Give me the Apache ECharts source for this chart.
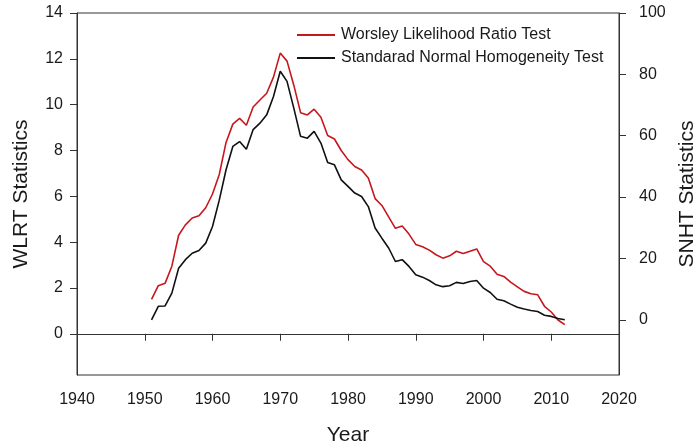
<!DOCTYPE html>
<html>
<head>
<meta charset="utf-8">
<script src="https://cdn.jsdelivr.net/npm/echarts@6/dist/echarts.min.js"></script>
<style>
  html, body { margin: 0; padding: 0; background: #fff; }
  #chart { width: 698px; height: 448px; }
</style>
</head>
<body>
<div id="chart"></div>
<script>
// years of the test series
const years = [
  1951, 1952, 1953, 1954, 1955, 1956, 1957, 1958, 1959, 1960,
  1961, 1962, 1963, 1964, 1965, 1966, 1967, 1968, 1969, 1970,
  1971, 1972, 1973, 1974, 1975, 1976, 1977, 1978, 1979, 1980,
  1981, 1982, 1983, 1984, 1985, 1986, 1987, 1988, 1989, 1990,
  1991, 1992, 1993, 1994, 1995, 1996, 1997, 1998, 1999, 2000,
  2001, 2002, 2003, 2004, 2005, 2006, 2007, 2008, 2009, 2010,
  2011, 2012
];
// Worsley Likelihood Ratio Test (left axis)
const wlrt = [
  1.5, 2.1, 2.2, 2.95, 4.3, 4.75, 5.05, 5.15, 5.5, 6.1,
  6.95, 8.35, 9.15, 9.4, 9.1, 9.9, 10.2, 10.5, 11.2, 12.25,
  11.9, 10.85, 9.65, 9.55, 9.8, 9.45, 8.65, 8.5, 8.0, 7.6,
  7.3, 7.15, 6.8, 5.9, 5.6, 5.1, 4.6, 4.7, 4.35, 3.9,
  3.8, 3.65, 3.45, 3.3, 3.4, 3.6, 3.5, 3.6, 3.7, 3.15,
  2.95, 2.6, 2.5, 2.25, 2.05, 1.85, 1.75, 1.7, 1.2, 0.95,
  0.6, 0.4
];
// Standard Normal Homogeneity Test (right axis)
const snht = [
  0, 4.4, 4.5, 8.7, 16.8, 19.6, 21.7, 22.6, 25, 30.4,
  39, 48.9, 56.5, 58.1, 55.6, 62, 64.1, 66.8, 72.8, 81,
  77.7, 69, 59.8, 59.2, 61.4, 57.6, 51.3, 50.5, 45.6, 43.5,
  41.3, 40.2, 36.9, 29.9, 26.6, 23.4, 19.0, 19.6, 17.4, 14.7,
  13.9, 12.8, 11.4, 10.8, 11.1, 12.2, 11.8, 12.5, 12.8, 10.3,
  8.9, 6.7, 6.2, 5.1, 4.1, 3.5, 3.0, 2.7, 1.5, 1.1,
  0.4, 0
];
const wlrtTicks = [0, 2, 4, 6, 8, 10, 12, 14];
const snhtTicks = [0, 20, 40, 60, 80, 100];

const FONT = "Liberation Sans, Arial, sans-serif";
const TXT = "#1a1a1a";

const chart = echarts.init(document.getElementById("chart"), null, { renderer: "canvas" });

chart.setOption({
  backgroundColor: "#fff",
  animation: false,
  textStyle: { fontFamily: FONT, color: TXT },
  grid: {
    left: 77, right: 79, top: 13, bottom: 73,
    outerBoundsMode: "none",
    containLabel: false,
    show: true, borderColor: "#333", borderWidth: 1
  },
  legend: {
    orient: "vertical",
    left: 292, top: 22,
    icon: "rect",
    itemWidth: 38, itemHeight: 2,
    itemGap: 7,
    textStyle: { fontFamily: FONT, fontSize: 16, color: TXT, padding: [0, 0, 0, 1] },
    data: ["Worsley Likelihood Ratio Test", "Standarad Normal Homogeneity Test"]
  },
  xAxis: {
    type: "value",
    min: 1940, max: 2020, interval: 10,
    name: "Year",
    nameLocation: "middle",
    nameGap: 50,
    nameTextStyle: { fontSize: 21, color: TXT, fontFamily: FONT },
    axisLine: { lineStyle: { color: "#333", width: 1 } },
    axisTick: { length: 7, lineStyle: { color: "#333" } },
    axisLabel: { fontSize: 16, color: TXT, margin: 17, fontFamily: FONT, formatter: (v) => String(v) },
    splitLine: { show: false }
  },
  yAxis: [
    {
      type: "value",
      position: "left",
      min: -1.8, max: 14,
      name: "WLRT Statistics",
      nameLocation: "middle",
      nameGap: 45,
      nameTextStyle: { fontSize: 21, color: TXT, fontFamily: FONT },
      axisLine: { show: true, lineStyle: { color: "#333", width: 1 } },
      axisTick: { show: true, length: 7, customValues: wlrtTicks, lineStyle: { color: "#333" } },
      axisLabel: { fontSize: 16, color: TXT, margin: 14, customValues: wlrtTicks, fontFamily: FONT },
      splitLine: { show: false }
    },
    {
      type: "value",
      position: "right",
      min: -18, max: 100,
      name: "SNHT Statistics",
      nameLocation: "middle",
      nameGap: 57,
      nameRotate: 90,
      nameTextStyle: { fontSize: 21, color: TXT, fontFamily: FONT },
      axisLine: { show: true, lineStyle: { color: "#333", width: 1 } },
      axisTick: { show: true, length: 7, customValues: snhtTicks, lineStyle: { color: "#333" } },
      axisLabel: { fontSize: 16, color: TXT, margin: 20, customValues: snhtTicks, fontFamily: FONT },
      splitLine: { show: false }
    }
  ],
  series: [
    {
      name: "Worsley Likelihood Ratio Test",
      type: "line",
      yAxisIndex: 0,
      symbol: "none",
      color: "#c8161d",
      lineStyle: { color: "#c8161d", width: 1.6 },
      data: years.map((y, i) => [y, wlrt[i]])
    },
    {
      name: "Standarad Normal Homogeneity Test",
      type: "line",
      yAxisIndex: 1,
      symbol: "none",
      color: "#111",
      lineStyle: { color: "#111", width: 1.6 },
      data: years.map((y, i) => [y, snht[i]])
    }
  ]
});
</script>
</body>
</html>
